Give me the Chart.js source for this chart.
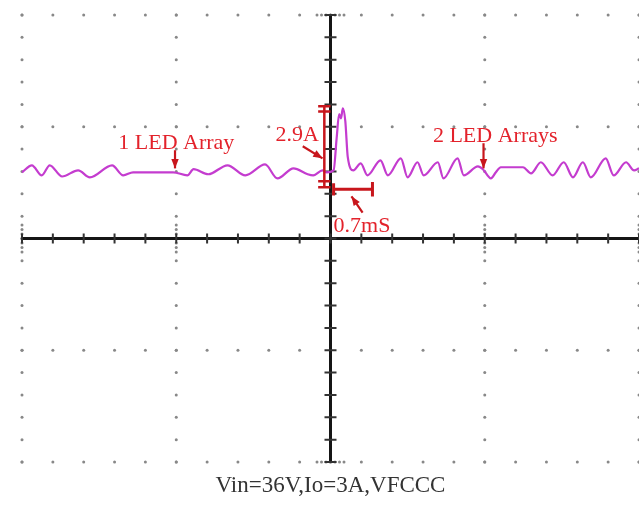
<!DOCTYPE html>
<html>
<head>
<meta charset="utf-8">
<script src="https://cdn.jsdelivr.net/npm/chart.js@4.4.1/dist/chart.umd.min.js"></script>
<style>
html, body { margin: 0; padding: 0; background: #fff; }
#wrap { width: 639px; height: 518px; position: relative; }
</style>
</head>
<body>
<div id="wrap"><canvas id="scope"></canvas></div>
<script>
// trace: time in ms (2.5 ms/div), current in A (4 A/div)
const timeMs = [-5.00, -4.84, -4.68, -4.55, -4.35, -4.09, -3.90, -3.54, -3.36, -3.20, -2.55, -2.32,
  -2.22, -1.98, -1.67, -1.38, -1.06, -0.86, -0.60, -0.37, -0.28, -0.13, -0.06, 0.05, 0.10, 0.14,
  0.17, 0.20, 0.24, 0.28, 0.37, 0.49, 0.60, 0.81, 0.93, 1.14, 1.25, 1.41, 1.51, 1.74, 1.83, 2.06,
  2.16, 2.39, 2.47, 2.60, 2.68, 2.76, 3.12, 3.25, 3.41, 3.60, 3.78, 3.93, 4.09, 4.22, 4.46, 4.59,
  4.79, 4.92, 5.00];
const currentA = [2.37, 2.62, 2.26, 2.62, 2.22, 2.44, 2.19, 2.62, 2.26, 2.37, 2.37, 2.26,
  2.48, 2.30, 2.62, 2.26, 2.65, 2.15, 2.51, 2.30, 2.26, 2.44, 2.37, 2.44, 3.60, 4.45,
  4.30, 4.66, 4.20, 2.91, 2.44, 2.69, 2.26, 2.80, 2.26, 2.87, 2.19, 2.73, 2.26, 2.73, 2.15, 2.87,
  2.26, 2.58, 2.48, 2.15, 2.37, 2.55, 2.55, 2.33, 2.73, 2.26, 2.73, 2.19, 2.73, 2.19, 2.87, 2.26,
  2.73, 2.44, 2.51];

const caption = 'Vin=36V,Io=3A,VFCCC';

// screen grid: 2.5 ms/div, 4 A/div, 5 minor steps per div
const X_MAJOR = 2.5, Y_MAJOR = 4;

// red notes (text left/baseline in ms, A)
const notes = [
  { text: '1 LED Array', t: -3.44, a: 3.19 },
  { text: '2.9A', t: -0.89, a: 3.48 },
  { text: '2 LED Arrays', t: 1.66, a: 3.44 },
  { text: '0.7mS', t: 0.05, a: 0.22 }
];
const arrows = [
  { from: [-2.52, 3.16], to: [-2.52, 2.51] },
  { from: [2.48, 3.41], to: [2.48, 2.51] },
  { from: [-0.45, 3.30], to: [-0.13, 2.87] },
  { from: [0.52, 0.93], to: [0.34, 1.51] }
];

const RED = '#e3222b';
const DARKRED = '#c8161c';

function arrow(ctx, x1, y1, x2, y2) {
  const ang = Math.atan2(y2 - y1, x2 - x1);
  ctx.beginPath();
  ctx.moveTo(x1, y1);
  ctx.lineTo(x2, y2);
  ctx.stroke();
  ctx.beginPath();
  ctx.moveTo(x2, y2);
  ctx.lineTo(x2 - 10 * Math.cos(ang - 0.38), y2 - 10 * Math.sin(ang - 0.38));
  ctx.lineTo(x2 - 10 * Math.cos(ang + 0.38), y2 - 10 * Math.sin(ang + 0.38));
  ctx.closePath();
  ctx.fill();
}

const scopeScreen = {
  id: 'scopeScreen',
  beforeDatasetsDraw(chart) {
    const { ctx, chartArea: ca, scales: { x, y } } = chart;
    const xc = x.getPixelForValue(0), yc = y.getPixelForValue(0);
    ctx.save();
    ctx.fillStyle = '#888';
    const dot = (px, py) => { ctx.beginPath(); ctx.arc(px, py, 1.5, 0, Math.PI * 2); ctx.fill(); };
    // dotted rows on major y
    for (let j = -2; j <= 2; j++) {
      const py = y.getPixelForValue(j * Y_MAJOR);
      for (let i = -10; i <= 10; i++) dot(x.getPixelForValue(i * X_MAJOR / 5), py);
    }
    // dotted columns on major x
    [-2, -1, 1, 2].forEach(i => {
      const px = x.getPixelForValue(i * X_MAJOR);
      for (let j = -10; j <= 10; j++) dot(px, y.getPixelForValue(j * Y_MAJOR / 5));
      for (let k = -3; k <= 3; k++) dot(px, yc + k * 4.5);
    });
    // fine dots near centre on top/bottom rows
    [-2, 2].forEach(j => {
      const py = y.getPixelForValue(j * Y_MAJOR);
      for (let k = -3; k <= 3; k++) dot(xc + k * 4.5, py);
    });
    // centre axes
    ctx.strokeStyle = '#151515';
    ctx.lineWidth = 3;
    ctx.beginPath();
    ctx.moveTo(ca.left, yc); ctx.lineTo(ca.right, yc);
    ctx.moveTo(xc, ca.top); ctx.lineTo(xc, ca.bottom);
    ctx.stroke();
    ctx.lineWidth = 2;
    ctx.strokeStyle = '#333';
    ctx.beginPath();
    for (let i = -10; i <= 10; i++) {
      const px = x.getPixelForValue(i * X_MAJOR / 5);
      ctx.moveTo(px, yc - 5); ctx.lineTo(px, yc + 5);
    }
    for (let j = -10; j <= 10; j++) {
      const py = y.getPixelForValue(j * Y_MAJOR / 5);
      ctx.moveTo(xc - 6, py); ctx.lineTo(xc + 6, py);
    }
    ctx.stroke();
    ctx.restore();
  },
  afterDatasetsDraw(chart) {
    const { ctx, chartArea: ca, scales: { x, y } } = chart;
    const X = v => x.getPixelForValue(v), Y = v => y.getPixelForValue(v);
    ctx.save();
    // measurement bars
    ctx.strokeStyle = DARKRED;
    ctx.fillStyle = DARKRED;
    ctx.lineWidth = 2.5;
    ctx.beginPath();
    ctx.moveTo(X(-0.10), Y(4.73)); ctx.lineTo(X(-0.10), Y(1.83));
    [4.73, 4.55, 2.05, 1.83].forEach(a => { ctx.moveTo(X(-0.20), Y(a)); ctx.lineTo(X(0.0), Y(a)); });
    ctx.stroke();
    ctx.lineWidth = 3;
    ctx.beginPath();
    ctx.moveTo(X(0.05), Y(1.76)); ctx.lineTo(X(0.68), Y(1.76));
    ctx.moveTo(X(0.05), Y(1.98)); ctx.lineTo(X(0.05), Y(1.54));
    ctx.moveTo(X(0.68), Y(2.02)); ctx.lineTo(X(0.68), Y(1.50));
    ctx.stroke();
    ctx.lineWidth = 2.2;
    arrows.forEach(a => arrow(ctx, X(a.from[0]), Y(a.from[1]), X(a.to[0]), Y(a.to[1])));
    // labels
    ctx.fillStyle = RED;
    ctx.font = '22px "Liberation Serif", "Times New Roman", serif';
    ctx.textBaseline = 'alphabetic';
    notes.forEach(n => ctx.fillText(n.text, X(n.t), Y(n.a)));
    // caption under the screen
    ctx.fillStyle = '#333';
    ctx.font = '23px "Liberation Serif", "Times New Roman", serif';
    ctx.textAlign = 'center';
    ctx.fillText(caption, X(0), ca.bottom + 30);
    ctx.restore();
  }
};

new Chart(document.getElementById('scope'), {
  type: 'line',
  data: {
    datasets: [{
      data: timeMs.map((t, i) => ({ x: t, y: currentA[i] })),
      borderColor: '#c43ccf',
      borderWidth: 2.2,
      pointRadius: 0,
      cubicInterpolationMode: 'monotone',
      fill: false
    }]
  },
  options: {
    responsive: true,
    maintainAspectRatio: false,
    animation: false,
    layout: { padding: { left: 22, right: 0, top: 15, bottom: 56 } },
    plugins: { legend: { display: false }, tooltip: { enabled: false } },
    scales: {
      x: { type: 'linear', min: -5, max: 5, display: false },
      y: { type: 'linear', min: -8, max: 8, display: false }
    }
  },
  plugins: [scopeScreen]
});
</script>
</body>
</html>
